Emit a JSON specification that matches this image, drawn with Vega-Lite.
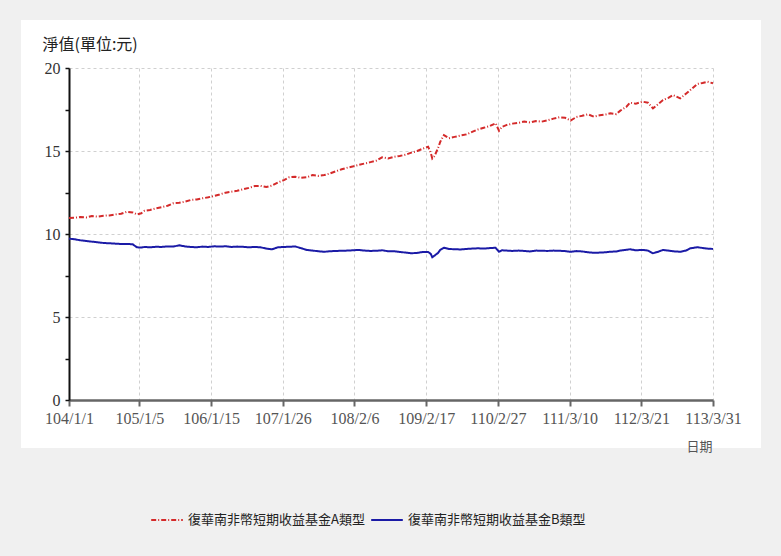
{
  "$schema": "https://vega.github.io/schema/vega-lite/v6.json",
  "width": 644,
  "height": 332,
  "autosize": {"type": "none"},
  "padding": {"left": 69, "top": 68, "right": 68, "bottom": 156},
  "background": "#f0f0f0",
  "view": {"fill": "white", "stroke": "white", "strokeWidth": 96},
  "data": {
    "values": [
      {"date": "2015-01-01", "A": 10.96, "B": 9.72},
      {"date": "2015-02-01", "A": 10.98, "B": 9.68},
      {"date": "2015-03-01", "A": 11.02, "B": 9.62},
      {"date": "2015-04-01", "A": 11.0, "B": 9.58},
      {"date": "2015-05-01", "A": 11.08, "B": 9.54},
      {"date": "2015-06-01", "A": 11.05, "B": 9.5},
      {"date": "2015-07-01", "A": 11.1, "B": 9.46},
      {"date": "2015-08-01", "A": 11.12, "B": 9.44},
      {"date": "2015-09-01", "A": 11.18, "B": 9.42},
      {"date": "2015-10-01", "A": 11.22, "B": 9.4},
      {"date": "2015-11-01", "A": 11.34, "B": 9.4},
      {"date": "2015-12-01", "A": 11.3, "B": 9.38},
      {"date": "2015-12-23", "A": 11.18, "B": 9.2},
      {"date": "2016-01-15", "A": 11.25, "B": 9.18},
      {"date": "2016-02-01", "A": 11.4, "B": 9.22},
      {"date": "2016-03-01", "A": 11.45, "B": 9.2},
      {"date": "2016-04-01", "A": 11.55, "B": 9.23},
      {"date": "2016-05-01", "A": 11.62, "B": 9.22},
      {"date": "2016-06-01", "A": 11.7, "B": 9.25},
      {"date": "2016-07-01", "A": 11.85, "B": 9.24},
      {"date": "2016-08-01", "A": 11.88, "B": 9.32},
      {"date": "2016-09-01", "A": 11.95, "B": 9.25},
      {"date": "2016-10-01", "A": 12.05, "B": 9.22},
      {"date": "2016-11-01", "A": 12.08, "B": 9.2},
      {"date": "2016-12-01", "A": 12.15, "B": 9.24},
      {"date": "2017-01-01", "A": 12.21, "B": 9.22},
      {"date": "2017-02-01", "A": 12.3, "B": 9.26},
      {"date": "2017-03-01", "A": 12.38, "B": 9.24},
      {"date": "2017-04-01", "A": 12.49, "B": 9.26},
      {"date": "2017-05-01", "A": 12.55, "B": 9.22},
      {"date": "2017-06-01", "A": 12.6, "B": 9.24},
      {"date": "2017-07-01", "A": 12.69, "B": 9.23},
      {"date": "2017-08-01", "A": 12.78, "B": 9.2},
      {"date": "2017-09-01", "A": 12.89, "B": 9.22},
      {"date": "2017-10-01", "A": 12.9, "B": 9.2},
      {"date": "2017-11-01", "A": 12.83, "B": 9.12},
      {"date": "2017-12-01", "A": 12.92, "B": 9.08},
      {"date": "2018-01-01", "A": 13.1, "B": 9.2},
      {"date": "2018-02-01", "A": 13.25, "B": 9.22},
      {"date": "2018-03-01", "A": 13.42, "B": 9.23},
      {"date": "2018-04-01", "A": 13.45, "B": 9.25},
      {"date": "2018-05-01", "A": 13.38, "B": 9.15},
      {"date": "2018-06-01", "A": 13.42, "B": 9.04},
      {"date": "2018-07-01", "A": 13.55, "B": 9.0},
      {"date": "2018-08-01", "A": 13.5, "B": 8.96},
      {"date": "2018-09-01", "A": 13.55, "B": 8.93},
      {"date": "2018-10-01", "A": 13.65, "B": 8.96},
      {"date": "2018-11-01", "A": 13.78, "B": 8.98},
      {"date": "2018-12-01", "A": 13.9, "B": 8.99},
      {"date": "2019-01-01", "A": 14.0, "B": 9.0},
      {"date": "2019-02-01", "A": 14.08, "B": 9.02},
      {"date": "2019-03-01", "A": 14.16, "B": 9.04},
      {"date": "2019-04-01", "A": 14.25, "B": 9.0},
      {"date": "2019-05-01", "A": 14.33, "B": 8.98},
      {"date": "2019-06-01", "A": 14.42, "B": 8.99},
      {"date": "2019-07-01", "A": 14.62, "B": 9.02},
      {"date": "2019-08-01", "A": 14.55, "B": 8.96},
      {"date": "2019-09-01", "A": 14.65, "B": 8.96},
      {"date": "2019-10-01", "A": 14.7, "B": 8.92},
      {"date": "2019-11-01", "A": 14.78, "B": 8.88},
      {"date": "2019-12-01", "A": 14.9, "B": 8.84},
      {"date": "2020-01-01", "A": 15.0, "B": 8.86},
      {"date": "2020-02-01", "A": 15.15, "B": 8.92},
      {"date": "2020-02-27", "A": 15.26, "B": 8.92},
      {"date": "2020-03-12", "A": 14.9, "B": 8.8},
      {"date": "2020-03-20", "A": 14.55, "B": 8.6},
      {"date": "2020-04-01", "A": 14.7, "B": 8.7},
      {"date": "2020-04-20", "A": 15.2, "B": 8.87},
      {"date": "2020-05-01", "A": 15.56, "B": 9.05},
      {"date": "2020-05-20", "A": 15.96, "B": 9.17},
      {"date": "2020-06-15", "A": 15.77, "B": 9.1},
      {"date": "2020-07-15", "A": 15.85, "B": 9.08},
      {"date": "2020-08-15", "A": 15.93, "B": 9.07},
      {"date": "2020-09-15", "A": 16.0, "B": 9.1},
      {"date": "2020-10-15", "A": 16.15, "B": 9.12},
      {"date": "2020-11-15", "A": 16.3, "B": 9.14},
      {"date": "2020-12-15", "A": 16.4, "B": 9.12},
      {"date": "2021-01-15", "A": 16.5, "B": 9.15},
      {"date": "2021-02-15", "A": 16.67, "B": 9.17},
      {"date": "2021-03-05", "A": 16.22, "B": 8.93},
      {"date": "2021-03-20", "A": 16.45, "B": 9.02},
      {"date": "2021-04-15", "A": 16.57, "B": 9.0},
      {"date": "2021-05-15", "A": 16.65, "B": 8.98},
      {"date": "2021-06-15", "A": 16.7, "B": 9.0},
      {"date": "2021-07-15", "A": 16.77, "B": 8.98},
      {"date": "2021-08-15", "A": 16.72, "B": 8.95},
      {"date": "2021-09-15", "A": 16.8, "B": 9.0},
      {"date": "2021-10-15", "A": 16.77, "B": 8.99},
      {"date": "2021-11-15", "A": 16.85, "B": 8.98},
      {"date": "2021-12-15", "A": 16.95, "B": 9.0},
      {"date": "2022-01-15", "A": 17.03, "B": 8.99},
      {"date": "2022-02-15", "A": 17.0, "B": 8.97},
      {"date": "2022-03-15", "A": 16.83, "B": 8.93},
      {"date": "2022-04-15", "A": 17.05, "B": 8.97},
      {"date": "2022-05-15", "A": 17.12, "B": 8.95},
      {"date": "2022-06-15", "A": 17.21, "B": 8.9},
      {"date": "2022-07-15", "A": 17.07, "B": 8.87},
      {"date": "2022-08-15", "A": 17.15, "B": 8.88},
      {"date": "2022-09-15", "A": 17.2, "B": 8.9},
      {"date": "2022-10-10", "A": 17.27, "B": 8.93},
      {"date": "2022-11-10", "A": 17.22, "B": 8.95},
      {"date": "2022-12-01", "A": 17.43, "B": 9.0},
      {"date": "2023-01-01", "A": 17.65, "B": 9.05},
      {"date": "2023-01-21", "A": 17.91, "B": 9.08},
      {"date": "2023-02-20", "A": 17.85, "B": 9.02},
      {"date": "2023-03-29", "A": 17.97, "B": 9.04},
      {"date": "2023-04-25", "A": 17.91, "B": 9.0},
      {"date": "2023-05-21", "A": 17.57, "B": 8.84},
      {"date": "2023-06-15", "A": 17.8, "B": 8.92},
      {"date": "2023-07-13", "A": 18.07, "B": 9.04},
      {"date": "2023-08-10", "A": 18.2, "B": 9.0},
      {"date": "2023-09-04", "A": 18.37, "B": 8.96},
      {"date": "2023-10-11", "A": 18.17, "B": 8.93},
      {"date": "2023-11-10", "A": 18.45, "B": 9.0},
      {"date": "2023-12-03", "A": 18.67, "B": 9.14},
      {"date": "2024-01-09", "A": 19.04, "B": 9.2},
      {"date": "2024-02-05", "A": 19.1, "B": 9.16},
      {"date": "2024-03-02", "A": 19.17, "B": 9.12},
      {"date": "2024-03-31", "A": 19.08, "B": 9.1}
    ]
  },
  "transform": [{"fold": ["A", "B"], "as": ["series", "value"]}],
  "mark": {"type": "line", "strokeWidth": 2, "interpolate": "linear"},
  "encoding": {
    "x": {
      "field": "date",
      "type": "temporal",
      "scale": {"type": "utc", "domain": [{"year": 2015, "month": 1, "date": 1, "utc": true}, {"year": 2024, "month": 3, "date": 31, "utc": true}]},
      "axis": {
        "values": [
          {"year": 2015, "month": 1, "date": 1, "utc": true},
          {"year": 2016, "month": 1, "date": 5, "utc": true},
          {"year": 2017, "month": 1, "date": 15, "utc": true},
          {"year": 2018, "month": 1, "date": 26, "utc": true},
          {"year": 2019, "month": 2, "date": 6, "utc": true},
          {"year": 2020, "month": 2, "date": 17, "utc": true},
          {"year": 2021, "month": 2, "date": 27, "utc": true},
          {"year": 2022, "month": 3, "date": 10, "utc": true},
          {"year": 2023, "month": 3, "date": 21, "utc": true},
          {"year": 2024, "month": 3, "date": 31, "utc": true}
        ],
        "labelExpr": "(utcyear(datum.value) - 1911) + '/' + (utcmonth(datum.value) + 1) + '/' + utcdate(datum.value)",
        "labelFont": "Liberation Serif",
        "labelFontSize": 16,
        "labelColor": "#555555",
        "labelPadding": 4,
        "labelFlush": false,
        "labelOverlap": false,
        "tickSize": 6,
        "tickColor": "#666666",
        "tickWidth": 2,
        "domainColor": "#666666",
        "domainWidth": 2.5,
        "grid": true,
        "gridColor": "#d0d0d0",
        "gridDash": [3, 3],
        "gridWidth": 1,
        "title": "日期",
        "titleFont": "Noto Sans CJK TC",
        "titleFontSize": 13,
        "titleFontWeight": "normal",
        "titleColor": "#555555",
        "titleAlign": "right",
        "titleAnchor": "end",
        "titleX": 643,
        "titleY": 46,
        "titleBaseline": "middle"
      }
    },
    "y": {
      "field": "value",
      "type": "quantitative",
      "scale": {"domain": [0, 20], "nice": false, "zero": true},
      "axis": {
        "values": [0, 2.5, 5, 7.5, 10, 12.5, 15, 17.5, 20],
        "labelExpr": "datum.value % 5 === 0 ? datum.label : ''",
        "labelFont": "Liberation Serif",
        "labelFontSize": 16,
        "labelColor": "#333333",
        "labelPadding": 5,
        "labelFlush": false,
        "labelOverlap": false,
        "tickSize": 4,
        "tickColor": "#111111",
        "tickWidth": 1.5,
        "domainColor": "#111111",
        "domainWidth": 2,
        "grid": true,
        "gridColor": "#d0d0d0",
        "gridDash": [3, 3],
        "gridOpacity": {"condition": {"test": "datum.value % 5 === 0 && datum.value > 0", "value": 1}, "value": 0},
        "title": "淨值(單位:元)",
        "titleFont": "Noto Sans CJK TC",
        "titleFontSize": 16,
        "titleFontWeight": "normal",
        "titleColor": "#222222",
        "titleAngle": 0,
        "titleAlign": "left",
        "titleBaseline": "middle",
        "titleX": -27,
        "titleY": -24
      }
    },
    "color": {
      "field": "series",
      "type": "nominal",
      "scale": {"domain": ["A", "B"], "range": ["#d42a2a", "#1a1aa6"]},
      "legend": {
        "title": null,
        "orient": "none",
        "legendX": 81,
        "legendY": 435,
        "direction": "horizontal",
        "symbolType": "stroke",
        "symbolSize": 1000,
        "symbolStrokeWidth": 2,
        "labelFont": "Noto Sans CJK TC",
        "labelFontSize": 13,
        "labelColor": "#222222",
        "labelLimit": 0,
        "columnPadding": 2,
        "labelOffset": 4,
        "labelExpr": "'復華南非幣短期收益基金' + datum.label + '類型'"
      }
    },
    "strokeDash": {
      "field": "series",
      "type": "nominal",
      "scale": {"domain": ["A", "B"], "range": [[5, 2, 1, 2], [1, 0]]},
      "legend": {
        "title": null,
        "orient": "none",
        "legendX": 81,
        "legendY": 435,
        "direction": "horizontal",
        "symbolType": "stroke",
        "symbolSize": 1000,
        "symbolStrokeWidth": 2,
        "labelFont": "Noto Sans CJK TC",
        "labelFontSize": 13,
        "labelColor": "#222222",
        "labelLimit": 0,
        "columnPadding": 2,
        "labelOffset": 4,
        "labelExpr": "'復華南非幣短期收益基金' + datum.label + '類型'"
      }
    }
  }
}
